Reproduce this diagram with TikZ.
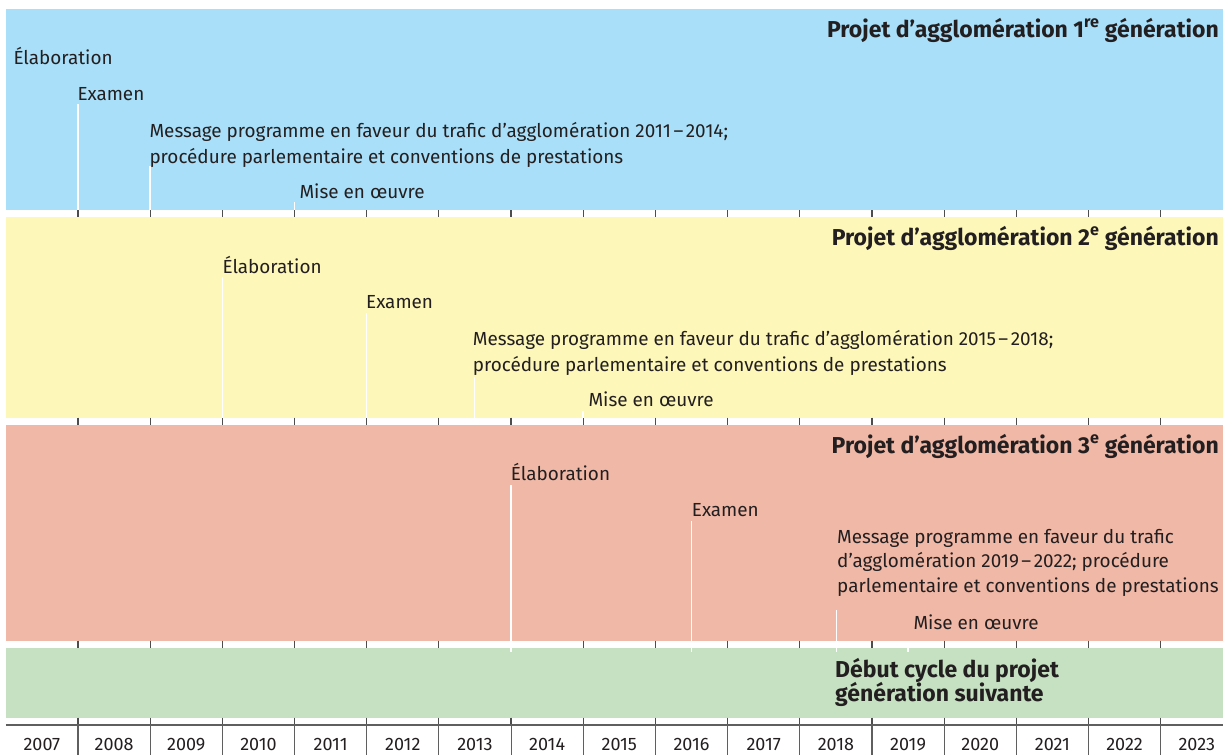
\documentclass[tikz,border=0pt]{standalone}
\usepackage{fontspec}
\setmainfont{Fira Sans}
\definecolor{bblue}{HTML}{A9DFF8}
\definecolor{byellow}{HTML}{FDF7B9}
\definecolor{bred}{HTML}{F0B8A6}
\definecolor{bgreen}{HTML}{C6E0C2}
\definecolor{ink}{HTML}{231F20}
\definecolor{tickc}{HTML}{4D4D4D}
\tikzset{
  lbl/.style={anchor=base west,inner sep=0pt,text=ink,font=\fontsize{18.9}{25}\selectfont},
  ttl/.style={anchor=base east,inner sep=0pt,text=ink,font=\fontsize{23}{28}\selectfont\bfseries},
  nxt/.style={anchor=base west,inner sep=0pt,text=ink,font=\fontsize{23}{28}\selectfont\bfseries},
  yr/.style={anchor=base,inner sep=0pt,text=ink,font=\fontsize{18}{22}\selectfont},
  phaseline/.style={draw=white,line width=1.3pt},
  tickline/.style={draw=tickc,line width=1.2pt},
  axisline/.style={draw=tickc!90,line width=1.1pt}
}
\begin{document}
\begin{tikzpicture}[x=1pt,y=-1pt]
\useasboundingbox (0,0) rectangle (1223,755);
\def\xo{5.8}
\def\dx{72.18}
% bands
\fill[bblue]   (\xo,9)     rectangle (1223,210);
\fill[byellow] (\xo,216.7) rectangle (1223,417.7);
\fill[bred]    (\xo,425)   rectangle (1223,640.7);
\fill[bgreen]  (\xo,648.3) rectangle (1223,717.7);
% ticks in gaps
\foreach \k in {1,...,16}{
  \pgfmathsetmacro\xx{\xo+\k*\dx}
  \draw[tickline] (\xx,210) -- (\xx,216.7);
  \draw[tickline] (\xx,417.7) -- (\xx,425);
  \draw[tickline] (\xx,640.7) -- (\xx,648.3);
  \draw[tickline] (\xx,717.7) -- (\xx,725);
  \draw[axisline] (\xx,725) -- (\xx,755);
}
\draw[axisline] (\xo,725) -- (1223,725);
% years
\foreach \y [count=\i from 0] in {2007,...,2023}{
  \pgfmathsetmacro\xc{\xo+(\i+0.5)*\dx}
  \node[yr] (y\y) at (\xc,750.5) {\y};
}
% ---- generation 1
\node[ttl] (t1) at (1219,37) {Projet d’agglomération 1\textsuperscript{re} génération};
\node[lbl] (e1) at (13.3,64) {Élaboration};
\node[lbl] (x1) at (77.3,100.5) {Examen};
\node[lbl] (m1a) at (149.3,137.3) {Message programme en faveur du trafic d’agglomération 2011\hspace{2.5pt}–\hspace{2.5pt}2014;};
\node[lbl] (m1b) at (149.3,163) {procédure parlementaire et conventions de prestations};
\node[lbl] (w1) at (299.3,198.3) {Mise en œuvre};
\coordinate (x1t) at (78,104.3);  \coordinate (x1b) at (78,210);
\coordinate (m1t) at (150,166);   \coordinate (m1e) at (150,210);
\coordinate (w1t) at (294.5,201.7); \coordinate (w1b) at (294.5,210);
\draw[phaseline] (x1t) -- (x1b);
\draw[phaseline] (m1t) -- (m1e);
\draw[phaseline] (w1t) -- (w1b);
% ---- generation 2
\node[ttl] (t2) at (1219,245) {Projet d’agglomération 2\textsuperscript{e} génération};
\node[lbl] (e2) at (222.3,273) {Élaboration};
\node[lbl] (x2) at (366,308.7) {Examen};
\node[lbl] (m2a) at (472.7,345) {Message programme en faveur du trafic d’agglomération 2015\hspace{2.5pt}–\hspace{2.5pt}2018;};
\node[lbl] (m2b) at (472.7,371) {procédure parlementaire et conventions de prestations};
\node[lbl] (w2) at (588.3,406) {Mise en œuvre};
\coordinate (e2t) at (222.3,277.3); \coordinate (e2b) at (222.3,417.7);
\coordinate (x2t) at (366.7,313);   \coordinate (x2b) at (366.7,417.7);
\coordinate (m2t) at (474.3,376.7); \coordinate (m2e) at (474.3,417.7);
\coordinate (w2t) at (583,411);     \coordinate (w2b) at (583,417.7);
\draw[phaseline] (e2t) -- (e2b);
\draw[phaseline] (x2t) -- (x2b);
\draw[phaseline] (m2t) -- (m2e);
\draw[phaseline] (w2t) -- (w2b);
% ---- generation 3
\node[ttl] (t3) at (1219,453) {Projet d’agglomération 3\textsuperscript{e} génération};
\node[lbl] (e3) at (510.7,480.7) {Élaboration};
\node[lbl] (x3) at (691.7,516.7) {Examen};
\node[lbl] (m3a) at (837,543) {Message programme en faveur du trafic};
\node[lbl] (m3b) at (837,567.5) {d’agglomération 2019\hspace{2.5pt}–\hspace{2.5pt}2022; procédure};
\node[lbl] (m3c) at (837,592) {parlementaire et conventions de prestations};
\node[lbl] (w3) at (913.3,629) {Mise en œuvre};
\coordinate (e3t) at (511,485);   \coordinate (e3b) at (511,651.5);
\coordinate (x3t) at (691.7,521); \coordinate (x3b) at (691.7,651.5);
\coordinate (m3t) at (836.2,610); \coordinate (m3e) at (836.2,651.5);
\coordinate (w3t) at (908,644);   \coordinate (w3b) at (908,651.5);
\draw[phaseline] (e3t) -- (e3b);
\draw[phaseline] (x3t) -- (x3b);
\draw[phaseline] (m3t) -- (m3e);
\draw[phaseline] (w3t) -- (w3b);
% ---- next generation
\node[nxt] (n1) at (835,677) {Début cycle du projet};
\node[nxt] (n2) at (835,701) {génération suivante};
\end{tikzpicture}
\end{document}
